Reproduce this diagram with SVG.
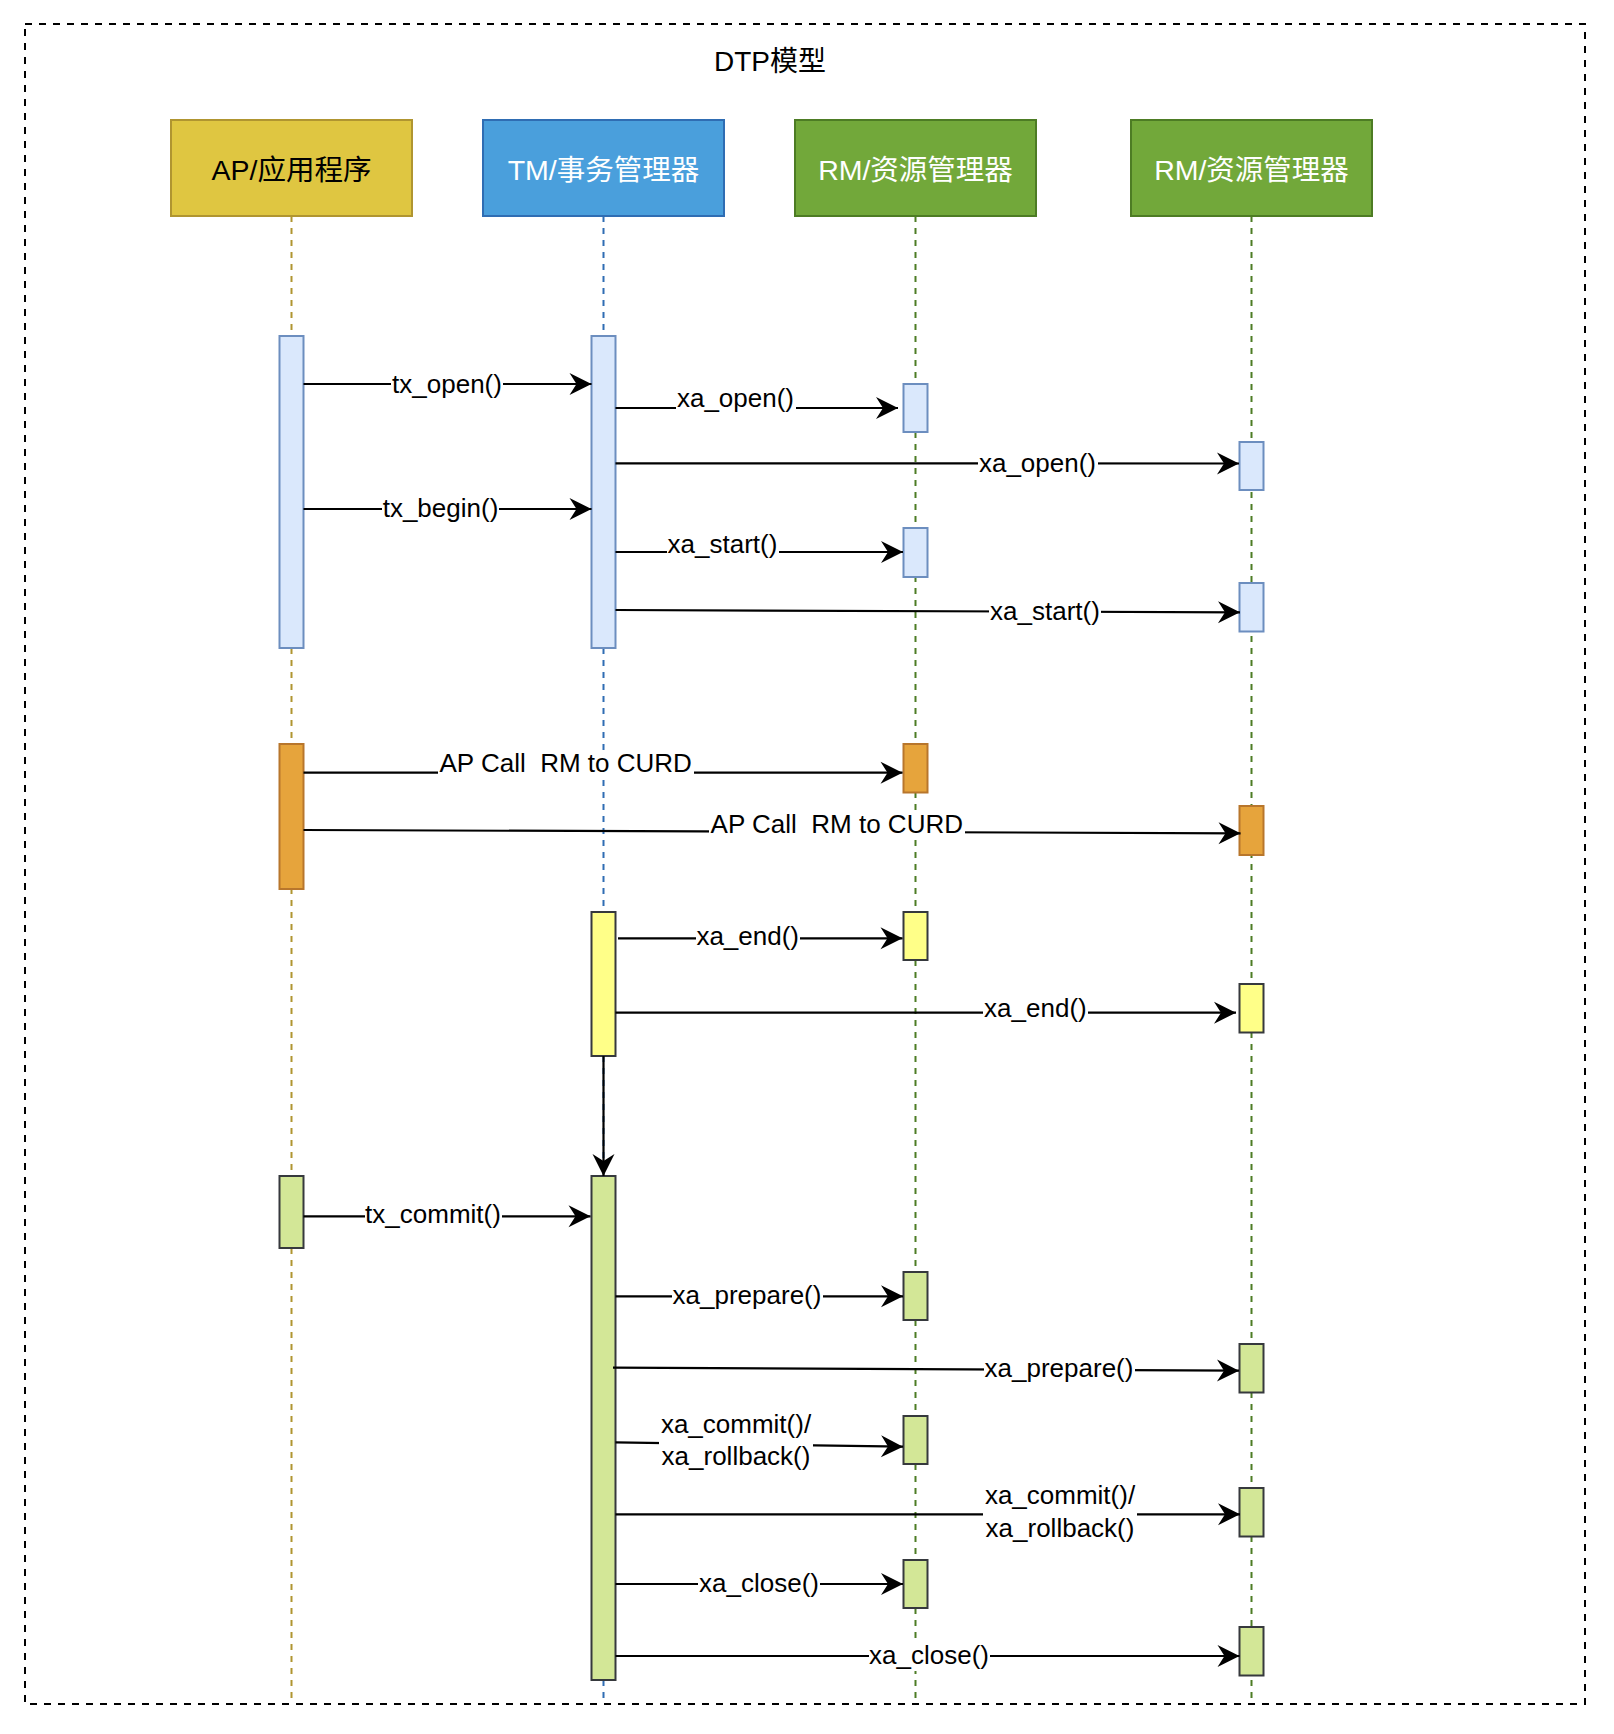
<svg xmlns="http://www.w3.org/2000/svg" width="1614" height="1734" viewBox="0 0 1614 1734">
<style>
text{font-family:"Liberation Sans","Noto Sans CJK SC",sans-serif}
.head{font-size:28.5px;text-anchor:middle}
.lbl{font-size:26px;text-anchor:middle;fill:#000}
.bg{fill:#fff}
.msg{stroke:#000;stroke-width:2.2;fill:none;marker-end:url(#arr)}
.life{stroke-width:2;stroke-dasharray:6 6;fill:none}
.bar{stroke-width:2}
.blue{fill:#dae8fc;stroke:#6c8ebf}
.orange{fill:#e6a43c;stroke:#b8762c}
.yellow{fill:#ffff88;stroke:#36393d}
.green{fill:#d3e797;stroke:#36393d}
</style>
<defs>
<marker id="arr" markerUnits="userSpaceOnUse" markerWidth="24" markerHeight="24" viewBox="0 0 24 24" refX="23" refY="12" orient="auto">
<path d="M1,1 L23,12 L1,23 L8,12 Z" fill="#000"/>
</marker>
</defs>
<rect x="0" y="0" width="1614" height="1734" fill="#fff"/>
<g id="frame">
<rect x="25" y="24" width="1560" height="1680" fill="none" stroke="#000" stroke-width="2" stroke-dasharray="7 7"/>
<text x="770" y="71" style="font-size:28px;text-anchor:middle">DTP模型</text>
</g>
<g id="lifelines">
<g id="ap">
<line class="life" x1="291.5" y1="216" x2="291.5" y2="1704" stroke="#b09530"/>
<rect x="171" y="120" width="241" height="96" fill="#dfc641" stroke="#b09530" stroke-width="2"/>
<text class="head" x="291.5" y="180" fill="#000">AP/应用程序</text>
</g>
<g id="tm">
<line class="life" x1="603.5" y1="216" x2="603.5" y2="1704" stroke="#2f6db3"/>
<rect x="483" y="120" width="241" height="96" fill="#4a9fdc" stroke="#2f6db3" stroke-width="2"/>
<text class="head" x="603.5" y="180" fill="#fff">TM/事务管理器</text>
</g>
<g id="rm1">
<line class="life" x1="915.5" y1="216" x2="915.5" y2="1704" stroke="#4d7c24"/>
<rect x="795" y="120" width="241" height="96" fill="#72a83a" stroke="#4d7c24" stroke-width="2"/>
<text class="head" x="915.5" y="180" fill="#fff">RM/资源管理器</text>
</g>
<g id="rm2">
<line class="life" x1="1251.5" y1="216" x2="1251.5" y2="1704" stroke="#4d7c24"/>
<rect x="1131" y="120" width="241" height="96" fill="#72a83a" stroke="#4d7c24" stroke-width="2"/>
<text class="head" x="1251.5" y="180" fill="#fff">RM/资源管理器</text>
</g>
</g>
<g id="activations">
<rect id="ap-a1" class="bar blue" x="279.5" y="336" width="24" height="312"/>
<rect id="ap-a2" class="bar orange" x="279.5" y="744" width="24" height="145"/>
<rect id="ap-a3" class="bar green" x="279.5" y="1176" width="24" height="72"/>
<rect id="tm-a1" class="bar blue" x="591.5" y="336" width="24" height="312"/>
<rect id="tm-a2" class="bar yellow" x="591.5" y="912" width="24" height="144"/>
<rect id="tm-a3" class="bar green" x="591.5" y="1176" width="24" height="504"/>
<rect id="rm1-a1" class="bar blue" x="903.5" y="384" width="24" height="48"/>
<rect id="rm1-a2" class="bar blue" x="903.5" y="528" width="24" height="49"/>
<rect id="rm1-a3" class="bar orange" x="903.5" y="744" width="24" height="48.5"/>
<rect id="rm1-a4" class="bar yellow" x="903.5" y="912" width="24" height="48"/>
<rect id="rm1-a5" class="bar green" x="903.5" y="1272" width="24" height="48"/>
<rect id="rm1-a6" class="bar green" x="903.5" y="1416" width="24" height="48"/>
<rect id="rm1-a7" class="bar green" x="903.5" y="1560" width="24" height="48"/>
<rect id="rm2-a1" class="bar blue" x="1239.5" y="442" width="24" height="48"/>
<rect id="rm2-a2" class="bar blue" x="1239.5" y="583" width="24" height="48.5"/>
<rect id="rm2-a3" class="bar orange" x="1239.5" y="806" width="24" height="49"/>
<rect id="rm2-a4" class="bar yellow" x="1239.5" y="984" width="24" height="48.5"/>
<rect id="rm2-a5" class="bar green" x="1239.5" y="1344" width="24" height="48.5"/>
<rect id="rm2-a6" class="bar green" x="1239.5" y="1488" width="24" height="48.5"/>
<rect id="rm2-a7" class="bar green" x="1239.5" y="1627" width="24" height="48.5"/>
</g>
<g id="connectors">
<line class="msg" x1="303.5" y1="384" x2="591.5" y2="384"/>
<line class="msg" x1="615.5" y1="408" x2="898" y2="408"/>
<line class="msg" x1="615.5" y1="463.3" x2="1239" y2="463.5"/>
<line class="msg" x1="303.5" y1="509" x2="591.5" y2="509"/>
<line class="msg" x1="615.5" y1="552" x2="903" y2="552"/>
<line class="msg" x1="615.5" y1="610" x2="1240" y2="612.3"/>
<line class="msg" x1="303.5" y1="772.7" x2="902.5" y2="772.7"/>
<line class="msg" x1="303.5" y1="830" x2="1240.5" y2="833.3"/>
<line class="msg" x1="618" y1="938.3" x2="902.5" y2="938.3"/>
<line class="msg" x1="615.5" y1="1012.7" x2="1236" y2="1012.7"/>
<line class="msg" x1="603.5" y1="1056" x2="603.5" y2="1176"/>
<line class="msg" x1="303.5" y1="1216.3" x2="590.5" y2="1216.3"/>
<line class="msg" x1="615.5" y1="1296.3" x2="903" y2="1296.3"/>
<line class="msg" x1="613" y1="1367.7" x2="1239" y2="1370.7"/>
<line class="msg" x1="615.5" y1="1442.3" x2="903" y2="1446.7"/>
<line class="msg" x1="615.5" y1="1514.3" x2="1240" y2="1514.3"/>
<line class="msg" x1="615.5" y1="1584" x2="903" y2="1584"/>
<line class="msg" x1="615.5" y1="1656" x2="1239.5" y2="1656"/>
<g id="labels">
<rect class="bg" x="391" y="372" width="112" height="28"/>
<text class="lbl" x="447" y="393">tx_open()</text>
<rect class="bg" x="676" y="386" width="120" height="28"/>
<text class="lbl" x="735.5" y="407">xa_open()</text>
<rect class="bg" x="978" y="450" width="120" height="28"/>
<text class="lbl" x="1037.5" y="471.5">xa_open()</text>
<rect class="bg" x="382" y="496" width="117" height="28"/>
<text class="lbl" x="440.5" y="517">tx_begin()</text>
<rect class="bg" x="667" y="532" width="112" height="28"/>
<text class="lbl" x="722.5" y="553">xa_start()</text>
<rect class="bg" x="989" y="599" width="112" height="28"/>
<text class="lbl" x="1045" y="620">xa_start()</text>
<rect class="bg" x="438" y="751" width="256" height="28"/>
<text class="lbl" x="565.7" y="771.7" xml:space="preserve">AP Call  RM to CURD</text>
<rect class="bg" x="709" y="812" width="256" height="28"/>
<text class="lbl" x="836.8" y="833" xml:space="preserve">AP Call  RM to CURD</text>
<rect class="bg" x="696" y="924" width="104" height="28"/>
<text class="lbl" x="747.7" y="945">xa_end()</text>
<rect class="bg" x="983" y="996" width="105" height="28"/>
<text class="lbl" x="1035.4" y="1016.5">xa_end()</text>
<rect class="bg" x="365" y="1202" width="137" height="28"/>
<text class="lbl" x="433" y="1223">tx_commit()</text>
<rect class="bg" x="672" y="1283" width="151" height="28"/>
<text class="lbl" x="747" y="1304">xa_prepare()</text>
<rect class="bg" x="984" y="1356" width="151" height="28"/>
<text class="lbl" x="1059" y="1377">xa_prepare()</text>
<rect class="bg" x="659" y="1412" width="154" height="60"/>
<text class="lbl" x="736" y="1433">xa_commit()/</text>
<text class="lbl" x="736" y="1465">xa_rollback()</text>
<rect class="bg" x="983" y="1483" width="154" height="60"/>
<text class="lbl" x="1060" y="1504">xa_commit()/</text>
<text class="lbl" x="1060" y="1536.5">xa_rollback()</text>
<rect class="bg" x="698" y="1571" width="122" height="28"/>
<text class="lbl" x="759" y="1592">xa_close()</text>
<rect class="bg" x="869" y="1643" width="121" height="28"/>
<text class="lbl" x="929" y="1664">xa_close()</text>
</g>
</g>
</svg>
